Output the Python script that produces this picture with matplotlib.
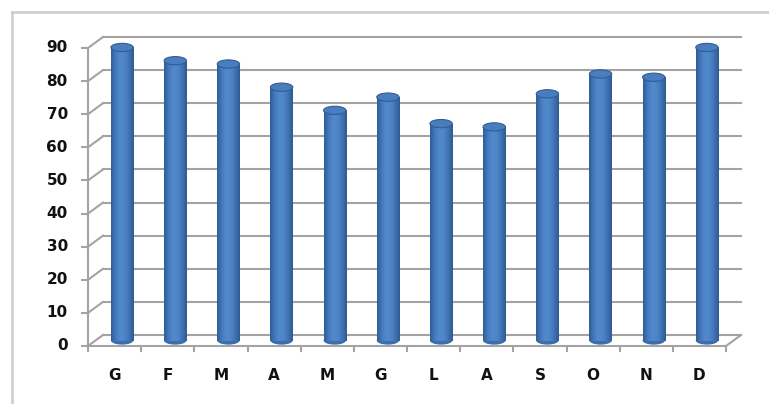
import matplotlib
matplotlib.use("Agg")
import matplotlib.pyplot as plt
import numpy as np
from matplotlib.patches import Ellipse
from matplotlib.colors import LinearSegmentedColormap
from matplotlib.lines import Line2D

months = ["G", "F", "M", "A", "M", "G", "L", "A", "S", "O", "N", "D"]
values = [89, 85, 84, 77, 70, 74, 66, 65, 75, 81, 80, 89]
y_ticks = [0, 10, 20, 30, 40, 50, 60, 70, 80, 90]

W, H = 769, 404
fig = plt.figure(figsize=(W / 100, H / 100), dpi=100)
fig.patch.set_facecolor("white")

# outer chart border (clipped at right/bottom like the reference)
fig.add_artist(Line2D([12 / W, 12 / W], [0, 1 - 12 / H], color="#cccccc", lw=1.8, transform=fig.transFigure))
fig.add_artist(Line2D([12 / W, 1], [1 - 12 / H, 1 - 12 / H], color="#cccccc", lw=1.8, transform=fig.transFigure))

ax = fig.add_axes([88 / W, 58 / H, 638 / W, 298 / H])
ax.set_axis_off()
n = len(months)
ymax = 90
dx = 15 / (638 / n)      # depth offset in category units
dy = 11 / (298 / ymax)   # depth offset in value units

grid_c = "#a3a3a3"
lw = 1.5
# back wall gridlines + left wall diagonals + y ticks
for v in y_ticks:
    ax.plot([dx, n + dx], [v + dy, v + dy], color=grid_c, lw=lw, clip_on=False, zorder=1)
    ax.plot([0, dx], [v, v + dy], color=grid_c, lw=lw, clip_on=False, zorder=1)
    ax.plot([-0.11, 0], [v, v], color=grid_c, lw=lw, clip_on=False, zorder=1)
    ax.text(-0.38, v, str(v), ha="right", va="center", fontsize=11,
            fontweight="bold", color="#111111", family="DejaVu Sans")
# front vertical axis
ax.plot([0, 0], [0, ymax], color=grid_c, lw=lw, clip_on=False, zorder=1)
# floor front edge and right diagonal
ax.plot([0, n], [0, 0], color=grid_c, lw=lw, clip_on=False, zorder=1)
ax.plot([n, n + dx], [0, dy], color=grid_c, lw=lw, clip_on=False, zorder=1)
for i in range(n + 1):
    ax.plot([i, i], [0, -1.6], color=grid_c, lw=lw, clip_on=False, zorder=1)

# cylinders
cmap = LinearSegmentedColormap.from_list(
    "cyl", ["#2f5c96", "#4479bc", "#5189cd", "#4f86c9", "#4173b3", "#2e5a92"])
grad = np.linspace(0, 1, 64).reshape(1, -1)
bw = 0.42
cap_h = 2.5
for i, (m, v) in enumerate(zip(months, values)):
    cx = i + 0.5 + dx / 2
    base = dy / 2
    top = v + dy / 2 - 0.5
    im = ax.imshow(grad, cmap=cmap, extent=(cx - bw / 2, cx + bw / 2, base, top),
                   aspect="auto", origin="lower", zorder=3, interpolation="bilinear")
    im.set_clip_on(False)
    ax.add_patch(Ellipse((cx, base), bw, cap_h, facecolor="#3d6eab", edgecolor="none",
                         zorder=2.9, clip_on=False))
    ax.add_patch(Ellipse((cx, top), bw, cap_h, facecolor="#4a7dbd", edgecolor="#2f5d96",
                         lw=0.8, zorder=4, clip_on=False))
    ax.text(i + 0.5, -8.8, m, ha="center", va="center", fontsize=11,
            fontweight="bold", color="#111111", family="DejaVu Sans")

ax.set_xlim(0, n)
ax.set_ylim(0, ymax)

fig.savefig("out.png", dpi=100, facecolor="white")
